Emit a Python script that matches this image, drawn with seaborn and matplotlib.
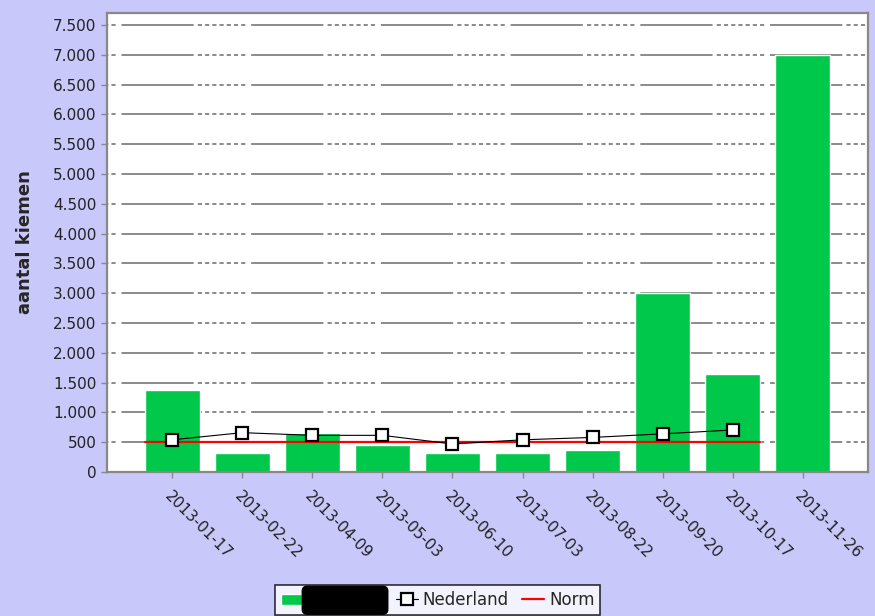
import numpy as np
import pandas as pd
import seaborn as sns
import matplotlib.pyplot as plt
from matplotlib.ticker import FuncFormatter

# data
dates = ['2013-01-17', '2013-02-22', '2013-04-09', '2013-05-03', '2013-06-10',
         '2013-07-03', '2013-08-22', '2013-09-20', '2013-10-17', '2013-11-26']
kiemen = [1375, 320, 650, 450, 325, 325, 370, 3000, 1650, 7000]
nederland = [540, 660, 615, 615, 470, 540, 580, 640, 705]
norm = [500, 500, 500, 500, 500, 500, 500, 500, 500]

bg = '#c8c8fa'
green = '#00c84a'

sns.set_style('white')
plt.rcParams['font.family'] = ['DejaVu Sans']
plt.rcParams['lines.scale_dashes'] = False

fig = plt.figure(figsize=(8.75, 6.16), dpi=100, facecolor=bg)
ax = fig.add_axes([107 / 875, 1 - 472 / 616, 761 / 875, 459 / 616])
ax.set_facecolor('white')

df = pd.DataFrame({'datum': dates, 'kiemen': kiemen})
sns.barplot(data=df, x='datum', y='kiemen', color=green, width=0.785,
            saturation=1, ax=ax, label='Locatie', zorder=2)

# Norm line spans the first nine bars
bw = 0.785
n = len(norm)
xs = [-bw / 2] + [i + 0.5 for i in range(n - 1)] + [n - 1 + bw / 2]
ys = [norm[0]] + norm
ax.step(xs, ys, where='pre', color='red', lw=1.6, zorder=3, label='Norm')

sns.lineplot(x=np.arange(len(nederland)), y=nederland, color='black', lw=0.8,
             marker='s', markersize=8, markerfacecolor='white',
             markeredgecolor='black', markeredgewidth=1.6, ax=ax, zorder=4,
             label='Nederland')
if ax.get_legend() is not None:
    ax.get_legend().remove()

ax.set_xlim(-0.93, 9.93)
ax.set_ylim(0, 7700)
ax.set_yticks(np.arange(0, 7501, 500))
ax.yaxis.set_major_formatter(FuncFormatter(lambda v, p: f'{int(v):,}'.replace(',', '.')))
ax.grid(axis='y', color='#8a8a8a', lw=1.4,
        linestyle=(83, (52, 3) + (3, 2.2) * 7 + (0.0001, 2)), zorder=1)
ax.set_axisbelow(True)

for s in ax.spines.values():
    s.set_color('#888888')
    s.set_linewidth(1.6)

ax.tick_params(axis='both', direction='out', length=4, width=1, color='#888888',
               labelsize=11, labelcolor='#222222', left=True, bottom=True)
ax.tick_params(axis='x', pad=8)
ax.set_xticks(range(len(dates)))
ax.set_xticklabels(dates, rotation=-45, ha='left', rotation_mode='anchor')
ax.set_xlabel('')
ax.set_ylabel('aantal kiemen', fontsize=13, fontweight='bold', labelpad=14)

h, l = ax.get_legend_handles_labels()
order = [l.index('Locatie'), l.index('Nederland'), l.index('Norm')]
leg = fig.legend([h[i] for i in order], [l[i] for i in order], loc='lower center',
                 bbox_to_anchor=(0.5, -0.012), ncol=3, frameon=True, fontsize=12,
                 handlelength=1.3, handletextpad=0.3, columnspacing=0.8,
                 borderpad=0.35, fancybox=False, edgecolor='black')
leg.get_frame().set_linewidth(1.2)
t0 = leg.get_texts()[0]
t0.set_text('Locatie   ')
t0.set_bbox(dict(boxstyle='round,pad=0.3', fc='black', ec='black'))
t0.set_color('black')

fig.savefig('out.png', dpi=100, facecolor=bg)
